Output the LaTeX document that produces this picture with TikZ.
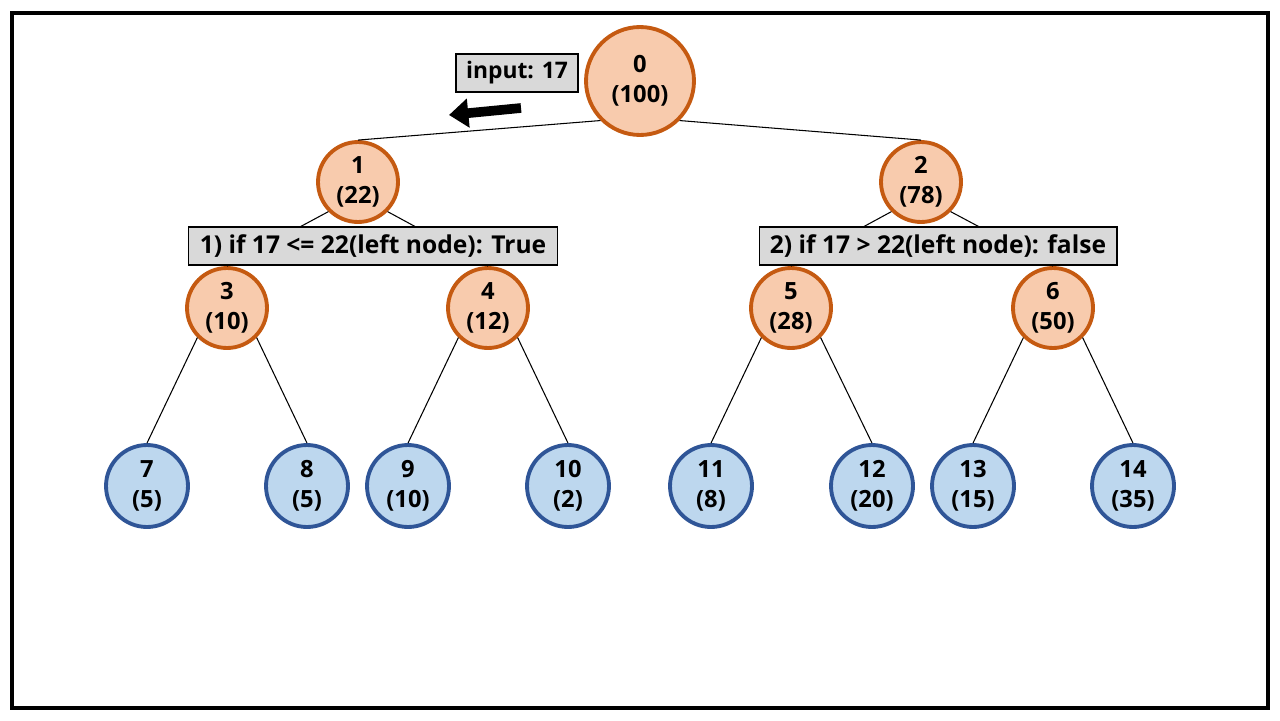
\documentclass[tikz,border=0pt]{standalone}
\usepackage{fontspec}
\setmainfont{Open Sans}
\usetikzlibrary{arrows.meta}
\definecolor{nodeorange}{HTML}{F8CBAD}
\definecolor{lineorange}{HTML}{C55A11}
\definecolor{leafblue}{HTML}{BDD7EE}
\definecolor{lineblue}{HTML}{2F5597}
\definecolor{boxgray}{HTML}{D9D9D9}
\begin{document}
\begin{tikzpicture}[x=0.02cm,y=-0.02cm,
    treenode/.style={circle, draw=lineorange, fill=nodeorange, line width=2.2pt, minimum size=1.6cm, inner sep=0pt, align=center, font=\bfseries\fontsize{13.5}{17}\selectfont},
    leafnode/.style={treenode, draw=lineblue, fill=leafblue, minimum size=1.64cm},
    condbox/.style={draw=black, fill=boxgray, line width=0.6pt, minimum height=0.76cm, inner sep=0pt, font=\bfseries\fontsize{14}{16}\selectfont},
    link/.style={line width=0.6pt}]
   \useasboundingbox (0,0) rectangle (1280,720);
   \draw[line width=1.8pt] (12,13) rectangle (1268,708);

   % inner nodes
   \node[treenode, minimum size=2.16cm] (n0) at (640,81) {0\\(100)};
   \node[treenode] (n1) at (358,182) {1\\(22)};
   \node[treenode] (n2) at (921,182) {2\\(78)};
   \node[treenode] (n3) at (227,308) {3\\(10)};
   \node[treenode] (n4) at (488,308) {4\\(12)};
   \node[treenode] (n5) at (791,308) {5\\(28)};
   \node[treenode] (n6) at (1053,308) {6\\(50)};

   % leaves
   \node[leafnode] (n7) at (147,486) {7\\(5)};
   \node[leafnode] (n8) at (307,486) {8\\(5)};
   \node[leafnode] (n9) at (408,486) {9\\(10)};
   \node[leafnode] (n10) at (568,486) {10\\(2)};
   \node[leafnode] (n11) at (711,486) {11\\(8)};
   \node[leafnode] (n12) at (872,486) {12\\(20)};
   \node[leafnode] (n13) at (973,486) {13\\(15)};
   \node[leafnode] (n14) at (1133,486) {14\\(35)};

   % edges
   \foreach \p/\a/\b in {n0/n1/n2, n1/n3/n4, n2/n5/n6, n3/n7/n8, n4/n9/n10, n5/n11/n12, n6/n13/n14} {
      \draw[link] (\p.south west) -- (\a.north);
      \draw[link] (\p.south east) -- (\b.north);
   }

   % conditions
   \node[condbox, minimum width=2.44cm, font=\bfseries\fontsize{13}{15}\selectfont] (input) at (517,73) {input: 17};
   \node[condbox, minimum width=7.4cm] (cond1) at (373,246) {1) if 17 <= 22(left node): True};
   \node[condbox, minimum width=7.16cm] (cond2) at (938,246) {2) if 17 > 22(left node): false};

   \coordinate (arrowtail) at (521,108);
   \coordinate (arrowtip) at (449,115);
   \draw[line width=5.5pt, -{Triangle[length=11pt,width=16pt]}] (arrowtail) -- (arrowtip);
\end{tikzpicture}
\end{document}
